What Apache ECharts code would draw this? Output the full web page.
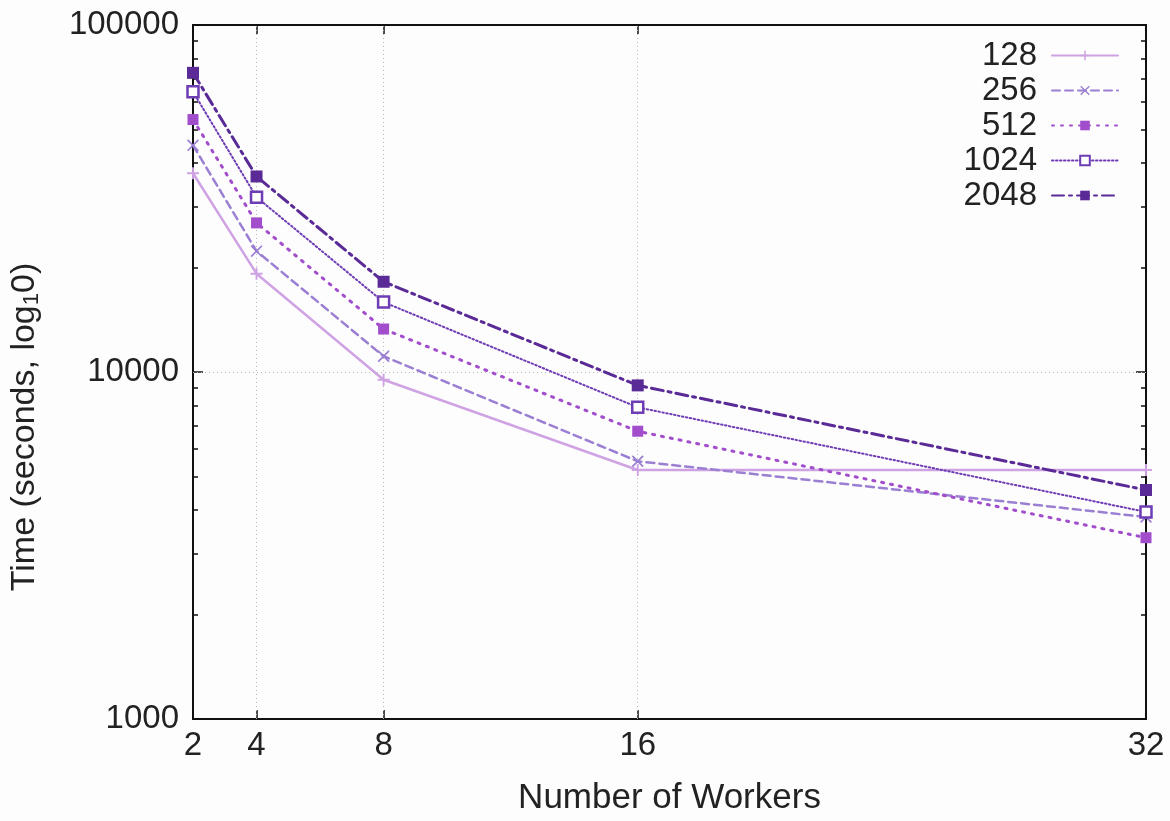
<!DOCTYPE html>
<html>
<head>
<meta charset="UTF-8">
<title>Time vs workers</title>
<script src="https://cdn.jsdelivr.net/npm/echarts@6/dist/echarts.min.js"></script>
<style>
  html, body { margin: 0; padding: 0; background: #fff; }
  #main { width: 1170px; height: 821px; }
</style>
</head>
<body>
<div id="main"></div>
<script>
// workers on x axis
var workers = [2, 4, 8, 16, 32];
var xTicks = [2, 4, 8, 16, 32];
var yMajor = [1000, 10000, 100000];
var yMinor = [2000, 3000, 4000, 5000, 6000, 7000, 8000, 9000,
              20000, 30000, 40000, 50000, 60000, 70000, 80000, 90000];

// seconds
var t128  = [37400, 19200, 9500, 5220, 5220];
var t256  = [45000, 22300, 11100, 5530, 3820];
var t512  = [53400, 26900, 13300, 6750, 3330];
var t1024 = [64200, 31900, 15900, 7910, 3950];
var t2048 = [72800, 36600, 18200, 9150, 4570];

var font = 'Liberation Sans, Arial, sans-serif';
var plusPath = 'path://M4.2,0H5.8V4.2H10V5.8H5.8V10H4.2V5.8H0V4.2H4.2Z';
var crossPath = 'path://M1,0L5,4L9,0L10,1L6,5L10,9L9,10L5,6L1,10L0,9L4,5L0,1Z';

function pairs(vals) {
    var out = [];
    for (var i = 0; i < workers.length; i++) out.push([workers[i], vals[i]]);
    return out;
}

function mkSeries(name, vals, color, dash, width, symbol, size, hollow) {
    return {
        name: name,
        type: 'line',
        data: pairs(vals),
        symbol: symbol,
        symbolSize: size,
        showSymbol: true,
        lineStyle: { color: color, width: width, type: dash, cap: 'round' },
        itemStyle: hollow ? { color: '#fff', borderColor: color, borderWidth: 2.5 }
                          : { color: color, borderWidth: 0 },
        z: 5
    };
}

var gridLine = { color: '#b8b8b8', width: 1, type: [1, 3] };

var series = [
    mkSeries('128', t128, '#cfa3e3', 'solid', 2.5, plusPath, 12, false),
    mkSeries('256', t256, '#9b7fd2', [8, 5], 2.5, crossPath, 12, false),
    mkSeries('512', t512, '#a24dcc', [2, 7], 3, 'rect', 11, false),
    mkSeries('1024', t1024, '#6e3cb4', [1.5, 2.5], 2, 'rect', 11, true),
    mkSeries('2048', t2048, '#5a2a96', [12, 5, 3, 5], 3, 'rect', 12, false)
];
// dotted grid
series[0].markLine = {
    silent: true,
    symbol: 'none',
    label: { show: false },
    lineStyle: gridLine,
    z: 1,
    data: [{ xAxis: 4 }, { xAxis: 8 }, { xAxis: 16 }, { yAxis: 10000 }]
};

function yAxisDef(pos, values, len, labels) {
    return {
        type: 'log',
        logBase: 10,
        min: 1000,
        max: 100000,
        position: pos,
        axisLine: { show: true, lineStyle: { color: '#111', width: 2 } },
        axisTick: { show: true, inside: true, length: len, customValues: values,
                    lineStyle: { color: '#111', width: 1.5 } },
        axisLabel: labels ? { show: true, customValues: yMajor, fontFamily: font, fontSize: 33,
                              color: '#222', margin: 14,
                              formatter: function (v) { return String(Math.round(v)); } }
                          : { show: false },
        minorTick: { show: false },
        splitLine: { show: false }
    };
}

var option = {
    backgroundColor: '#fdfdfd',
    animation: false,
    grid: { left: 193, right: 24, top: 25, bottom: 99, containLabel: false },
    legend: {
        orient: 'vertical',
        right: 46,
        top: 34,
        align: 'right',
        itemWidth: 66,
        itemHeight: 12,
        itemGap: 2,
        textStyle: { fontFamily: font, fontSize: 33, color: '#222', padding: [0, 10, 0, 0] },
        data: ['128', '256', '512', '1024', '2048']
    },
    xAxis: [{
        type: 'value',
        min: 2,
        max: 32,
        position: 'bottom',
        name: 'Number of Workers',
        nameLocation: 'middle',
        nameGap: 62,
        nameTextStyle: { fontFamily: font, fontSize: 35, color: '#222' },
        axisLine: { show: true, lineStyle: { color: '#111', width: 2 } },
        axisTick: { show: true, inside: true, length: 9, customValues: xTicks,
                    lineStyle: { color: '#111', width: 1.5 } },
        axisLabel: { show: true, customValues: xTicks, fontFamily: font, fontSize: 33,
                     color: '#222', margin: 10 },
        splitLine: { show: false }
    }, {
        type: 'value',
        min: 2,
        max: 32,
        position: 'top',
        axisLine: { show: true, lineStyle: { color: '#111', width: 2 } },
        axisTick: { show: true, inside: true, length: 9, customValues: xTicks,
                    lineStyle: { color: '#111', width: 1.5 } },
        axisLabel: { show: false },
        splitLine: { show: false }
    }],
    yAxis: [
        Object.assign(yAxisDef('left', yMajor, 10, true), {
            name: '{a|Time (seconds, log}{s|1}{a|0)}',
            nameLocation: 'middle',
            nameGap: 150,
            nameRotate: 90,
            nameTextStyle: {
                padding: [0, 110, 0, 0],
                rich: {
                    a: { fontFamily: font, fontSize: 34, color: '#222' },
                    s: { fontFamily: font, fontSize: 22, color: '#222', verticalAlign: 'bottom', padding: [14, 0, 0, 0] }
                }
            }
        }),
        yAxisDef('left', yMinor, 5, false),
        yAxisDef('right', yMajor, 10, false),
        yAxisDef('right', yMinor, 5, false)
    ],
    series: series
};

var chart = echarts.init(document.getElementById('main'), null, { renderer: 'canvas' });
chart.setOption(option);
</script>
</body>
</html>
